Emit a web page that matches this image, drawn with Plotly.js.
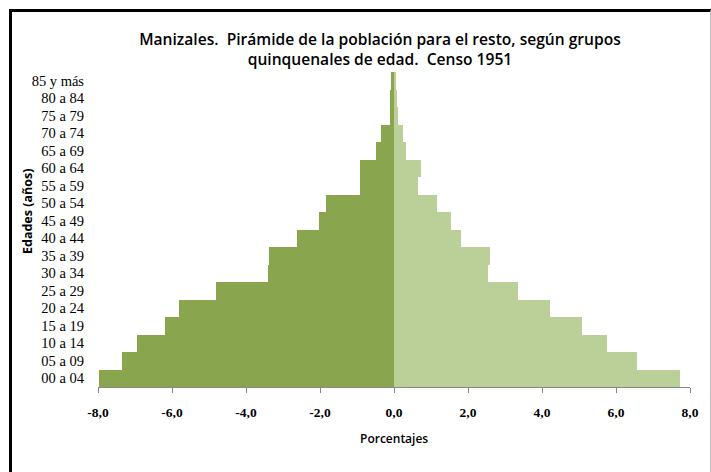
<!DOCTYPE html>
<html>
<head>
<meta charset="utf-8">
<script src="https://cdn.plot.ly/plotly-3.0.1.min.js"></script>
<style>
  html, body { margin: 0; padding: 0; background: #fff; }
  #wrap { position: relative; width: 711px; height: 472px; overflow: hidden; }
  #chart { position: absolute; left: 0; top: 0; width: 711px; height: 472px; }
  #frame { position: absolute; left: 9px; top: 9px; width: 698px; height: 480px;
           border-left: 3px solid #000; border-top: 3px solid #000; border-right: 1px solid #bbb;
           pointer-events: none; }
</style>
</head>
<body>
<div id="wrap">
  <div id="chart"></div>
  <div id="frame"></div>
</div>
<script>
const ageGroups = ['00 a 04','05 a 09','10 a 14','15 a 19','20 a 24','25 a 29','30 a 34','35 a 39','40 a 44','45 a 49','50 a 54','55 a 59','60 a 64','65 a 69','70 a 74','75 a 79','80 a 84','85 y más'];
const hombres = [-7.97, -7.35, -6.94, -6.19, -5.81, -4.80, -3.40, -3.37, -2.63, -2.03, -1.83, -0.91, -0.91, -0.50, -0.36, -0.12, -0.10, -0.08];
const mujeres = [7.74, 6.58, 5.75, 5.08, 4.22, 3.35, 2.53, 2.60, 1.81, 1.54, 1.17, 0.66, 0.72, 0.33, 0.24, 0.11, 0.09, 0.05];
const xTickVals = [-8, -6, -4, -2, 0, 2, 4, 6, 8];
const xTickText = ['-8,0', '-6,0', '-4,0', '-2,0', '0,0', '2,0', '4,0', '6,0', '8,0'];

const traces = [
  { type: 'bar', orientation: 'h', name: 'Hombres', y: ageGroups, x: hombres, width: 1,
    marker: { color: '#89A54E', line: { width: 0 } }, hoverinfo: 'x+y' },
  { type: 'bar', orientation: 'h', name: 'Mujeres', y: ageGroups, x: mujeres, width: 1,
    marker: { color: '#BBCF98', line: { width: 0 } }, hoverinfo: 'x+y' }
];

const layout = {
  width: 711, height: 472,
  margin: { l: 98, r: 21, t: 72, b: 85 },
  paper_bgcolor: '#fff', plot_bgcolor: '#fff',
  showlegend: false,
  barmode: 'overlay',
  bargap: 0,
  title: {
    text: 'Manizales.  Pirámide de la población para el resto, según grupos<br>quinquenales de edad.  Censo 1951',
    font: { family: 'Open Sans, Liberation Sans, sans-serif', size: 15.6, color: '#000', weight: 600 },
    x: 380 / 711, xref: 'container', xanchor: 'center',
    y: 1 - 45 / 472, yref: 'container', yanchor: 'middle'
  },
  xaxis: {
    range: [-8, 8], fixedrange: true,
    tickvals: xTickVals, ticktext: xTickText,
    ticks: 'outside', ticklen: 5, tickcolor: '#888', tickwidth: 1,
    showline: true, linecolor: '#888', linewidth: 1,
    showgrid: false,
    zeroline: true, zerolinecolor: '#888', zerolinewidth: 1,
    tickfont: { family: 'Liberation Serif, serif', size: 13.5, color: '#000', weight: 'bold' },
    ticklabelstandoff: 8
  },
  yaxis: {
    type: 'category', categoryorder: 'array', categoryarray: ageGroups,
    tickmode: 'array', tickvals: ageGroups, ticktext: ageGroups,
    range: [-0.5, 17.5], fixedrange: true,
    showline: false, showgrid: false, zeroline: false, ticks: '',
    tickfont: { family: 'Liberation Serif, serif', size: 14.5, color: '#000' },
    ticklabelstandoff: 13
  },
  annotations: [
    { text: 'Porcentajes', xref: 'paper', yref: 'paper', x: 0.5, y: -0.112 + 0.0,
      xanchor: 'center', yanchor: 'middle', showarrow: false,
      yshift: -(438 - 387) + 0.112 * 315,
      font: { family: 'Open Sans, Liberation Sans, sans-serif', size: 12, color: '#000', weight: 600 } },
    { text: 'Edades (años)', xref: 'paper', yref: 'paper', x: 0, y: 1, xanchor: 'center', yanchor: 'middle',
      xshift: 27 - 98, yshift: -(212 - 72), textangle: -90, showarrow: false,
      font: { family: 'Open Sans, Liberation Sans, sans-serif', size: 12.5, color: '#000', weight: 700 } }
  ]
};

Plotly.newPlot('chart', traces, layout, { displayModeBar: false, staticPlot: true });
</script>
</body>
</html>
